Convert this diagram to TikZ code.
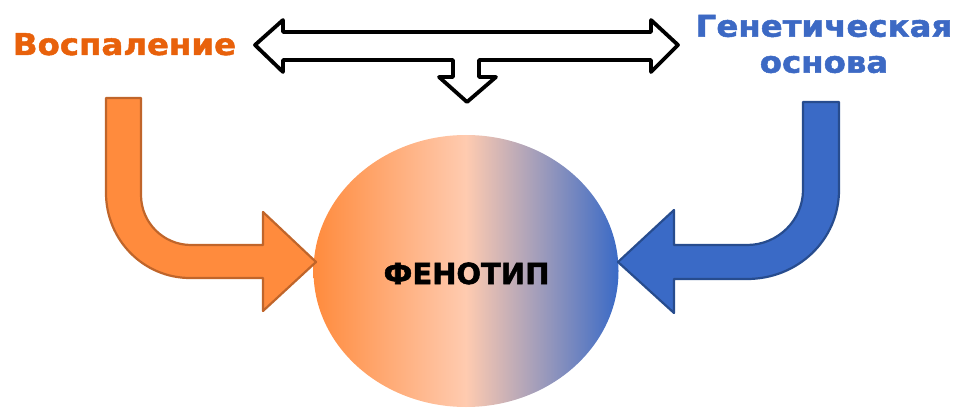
\documentclass[tikz,border=0pt]{standalone}
\usepackage{fontspec}
\usetikzlibrary{shapes.geometric}
\setmainfont{DejaVu Sans}
\newfontfamily\heavy{DejaVu Sans}[BoldFeatures={FakeBold=1.6,FakeStretch=1.08}]
\newfontfamily\heavyc{DejaVu Sans}[BoldFeatures={FakeBold=1.8}]
\definecolor{orfill}{HTML}{FF8B3D}
\definecolor{ordraw}{HTML}{C0652A}
\definecolor{blfill}{HTML}{3A6AC6}
\definecolor{bldraw}{HTML}{274C8E}
\definecolor{ortext}{HTML}{E8610B}
\definecolor{bltext}{HTML}{3C69C4}
\definecolor{peach}{HTML}{FFCBB0}
\begin{document}
\begin{tikzpicture}[x=1pt,y=-1pt,
  lbl/.style={font=\fontsize{30}{36}\heavy\bfseries, inner sep=0pt},
  blockarrow/.style={line width=2.2pt, line join=round},
  outlinearrow/.style={draw=black, fill=white, line width=3.8pt, line join=round}]
\useasboundingbox (0,0) rectangle (958,409);
% phenotype ellipse
\node[ellipse, minimum width=305pt, minimum height=272pt, inner sep=0pt,
  left color=orfill, right color=blfill, middle color=peach] (phen) at (466,271) {};
\node[font=\fontsize{29}{34}\heavyc\bfseries, anchor=base] (phentext) at (466.5,284) {ФЕНОТИП};
% labels
\node[lbl, text=ortext, anchor=base] (infl) at (124.5,55) {Воспаление};
\node[lbl, text=bltext, align=center] (gen) at (824,44) {Генетическая\\основа};
% orange bent arrow
\draw[blockarrow, draw=ordraw, fill=orfill]
  (106,98) -- (141,98) -- (141,195)
  .. controls (141,222.6) and (163.4,245) .. (191,245)
  -- (263,245) -- (263,212) -- (316,262) -- (263,311) -- (263,278) -- (190,278)
  .. controls (143.6,278) and (106,240) .. (106,193) -- cycle;
% blue bent arrow
\draw[blockarrow, draw=bldraw, fill=blfill]
  (803,102) -- (839,102) -- (839,190)
  .. controls (839,240) and (797.8,279) .. (747,279)
  -- (674,279) -- (674,313) -- (618,262) -- (674,210) -- (674,245) -- (747,245)
  .. controls (778,245) and (803,220) .. (803,190) -- cycle;
% double arrow with down branch
\draw[outlinearrow]
  (255,45) -- (283,20) -- (283,32) -- (651,32) -- (651,20) -- (678,45) -- (651,72)
  -- (651,60) -- (479,60) -- (479,77) -- (496,77) -- (467,102) -- (439,77)
  -- (453,77) -- (453,60) -- (283,60) -- (283,72) -- cycle;
\end{tikzpicture}
\end{document}
